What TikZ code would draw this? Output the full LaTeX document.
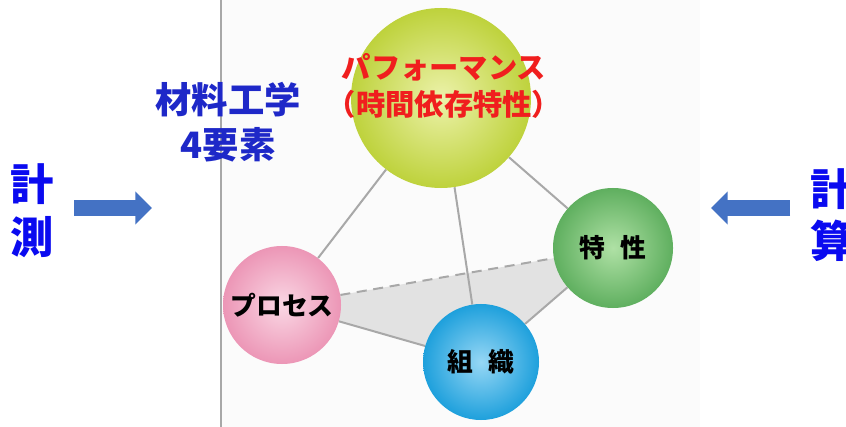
\documentclass[tikz,border=0pt]{standalone}
\usepackage{fontspec}
\newfontfamily\jp{Noto Sans CJK JP}
\usetikzlibrary{arrows.meta}
\definecolor{arrowblue}{HTML}{4472C4}
\definecolor{txtblue}{HTML}{0A0AF0}
\definecolor{darkblue}{HTML}{1E28C8}
\definecolor{perfred}{HTML}{F01E1E}
\definecolor{linegray}{HTML}{A8A8A8}
\definecolor{trigray}{HTML}{E2E2E2}
\definecolor{panelbg}{HTML}{FBFBFB}
\pgfdeclarelayer{bg}
\pgfsetlayers{bg,main}
\tikzset{
  ball/.style={circle, draw=none, inner sep=0pt, font=\jp\bfseries\fontsize{22}{24}\selectfont, text=black},
  perfball/.style={ball, minimum size=5.4cm, shading=radial, inner color={rgb,255:red,236;green,242;blue,170}, outer color={rgb,255:red,190;green,210;blue,60}},
  procball/.style={ball, minimum size=3.54cm, shading=radial, inner color={rgb,255:red,250;green,215;blue,228}, outer color={rgb,255:red,236;green,150;blue,182}},
  tisball/.style={ball, minimum size=3.48cm, shading=radial, inner color={rgb,255:red,150;green,215;blue,245}, outer color={rgb,255:red,30;green,160;blue,220}},
  propball/.style={ball, minimum size=3.6cm, shading=radial, inner color={rgb,255:red,175;green,225;blue,165}, outer color={rgb,255:red,95;green,175;blue,95}},
  edge/.style={draw=linegray, line width=0.06cm},
  bigarrow/.style={draw=arrowblue, line width=0.48cm, -{Triangle[length=0.5cm,width=0.96cm]}},
  sidetxt/.style={font=\jp\bfseries\fontsize{37}{45}\selectfont, text=txtblue, align=center, inner sep=0pt},
}
\begin{document}
\begin{tikzpicture}[x=0.03cm,y=-0.03cm]
\useasboundingbox (0,0) rectangle (846,427);

\node[perfball] (perf) at (441,98) {};
\node[procball] (proc) at (282,305) {プロセス};
\node[tisball] (tis) at (481,362) {組\hspace{0.6em}織};
\node[propball] (prop) at (613,248) {特\hspace{0.6em}性};

\begin{pgfonlayer}{bg}
\fill[white] (0,0) rectangle (846,427);
\fill[panelbg] (221,0) rectangle (700,427);
\draw[linegray, line width=0.04cm] (221,0) -- (221,427);
\fill[trigray] (proc.center) -- (tis.center) -- (prop.center) -- cycle;
\draw[edge] (perf) -- (proc);
\draw[edge] (perf) -- (tis);
\draw[edge] (perf) -- (prop);
\draw[edge] (proc) -- (tis);
\draw[edge] (tis) -- (prop);
\draw[edge, dashed, dash pattern=on 0.3cm off 0.2cm] (proc) -- (prop);
\end{pgfonlayer}

\node[font=\jp\bfseries\fontsize{25}{32}\selectfont, text=perfred, align=center, inner sep=0pt] (perflabel) at (444,86) {パフォーマンス\\（時間依存特性）};

\node[font=\jp\bfseries\fontsize{31}{38}\selectfont, text=darkblue, align=center, inner sep=0pt] (four) at (228,122) {材料工学\\4要素};

\node[sidetxt] (meas) at (32,211) {計\\測};
\node[sidetxt, anchor=west] (calc) at (810,215) {計\\算};

\coordinate (la1) at (74,208);
\coordinate (la2) at (152,208);
\coordinate (ra1) at (790,208);
\coordinate (ra2) at (711,208);
\draw[bigarrow] (la1) -- (la2);
\draw[bigarrow] (ra1) -- (ra2);
\end{tikzpicture}
\end{document}
